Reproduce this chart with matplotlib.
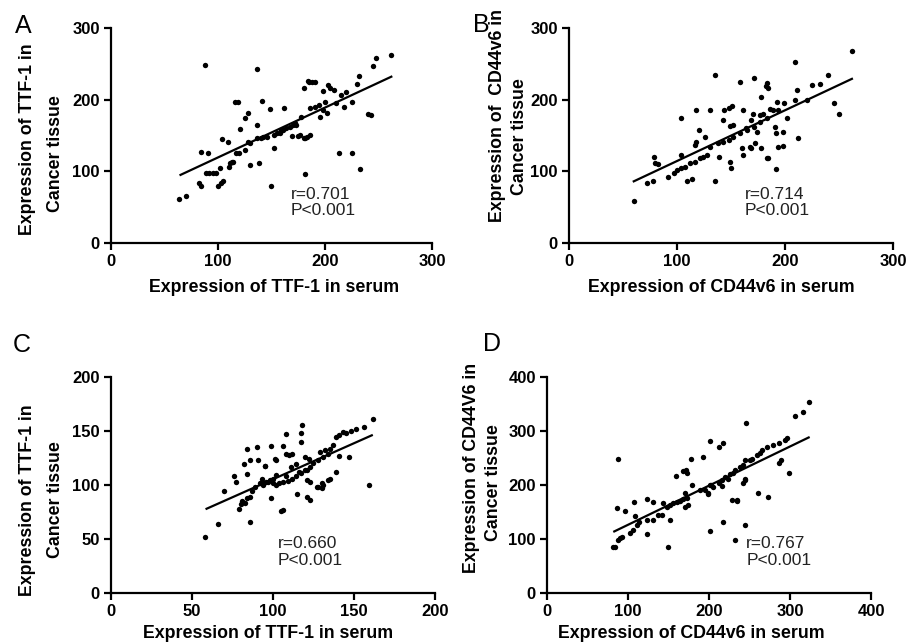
import matplotlib
matplotlib.use("Agg")
import matplotlib.pyplot as plt
import numpy as np

plt.rcParams['font.family'] = ['Liberation Sans', 'DejaVu Sans']

# panel A: TTF-1, serum vs cancer tissue
a_x = [64, 70, 88, 136, 84, 91, 82, 84, 89, 92, 95, 98, 102, 104, 109, 100, 103, 105,
       110, 113, 117, 120, 111, 114, 116, 119, 125, 128, 121, 130, 138, 125, 128, 136, 142,
       141, 136, 149, 150, 152, 152, 155, 161, 167, 172, 178, 162, 169, 175, 181, 181, 180,
       185, 184, 188, 191, 198, 203, 205, 208, 200, 198, 202, 195, 186, 191, 194, 164, 159,
       170, 177, 180, 183, 186, 130, 140, 146, 158, 173, 213, 225, 233, 230, 232, 240, 243,
       248, 262, 220, 215, 245, 225, 218, 210]
a_y = [62, 65, 249, 243, 127, 126, 83, 80, 97, 98, 98, 98, 104, 145, 141, 80, 83, 86,
       106, 113, 125, 125, 111, 113, 196, 197, 175, 181, 159, 109, 112, 130, 141, 146, 148,
       198, 164, 187, 80, 133, 151, 153, 158, 162, 167, 176, 189, 149, 149, 146, 96, 216,
       225, 226, 225, 224, 212, 220, 216, 214, 197, 186, 182, 176, 188, 190, 192, 160, 158,
       165, 151, 147, 148, 151, 139, 146, 148, 153, 165, 125, 125, 103, 222, 233, 180, 178,
       258, 262, 210, 207, 247, 197, 190, 195]
a_fit_x = [65, 262]
a_fit_y = [95, 232]

# panel B: CD44v6, serum vs cancer tissue
b_x = [60, 72, 78, 79, 80, 82, 92, 97, 100, 104, 107, 112, 117, 121, 124, 128, 104, 104,
       109, 114, 118, 131, 120, 118, 117, 126, 135, 135, 131, 138, 143, 148, 152, 158, 165,
       171, 177, 183, 139, 144, 148, 151, 143, 149, 152, 149, 150, 158, 161, 160, 161, 168,
       169, 170, 171, 174, 178, 178, 182, 183, 183, 184, 209, 211, 209, 193, 199, 202, 186,
       189, 194, 191, 192, 198, 194, 198, 192, 184, 212, 172, 164, 169, 177, 180, 232, 240,
       250, 262, 225, 220, 245]
b_y = [59, 83, 86, 120, 112, 110, 92, 98, 102, 104, 106, 111, 113, 118, 120, 123, 175, 123,
       87, 89, 186, 185, 158, 141, 137, 148, 234, 86, 134, 139, 141, 144, 148, 153, 158,
       162, 169, 174, 120, 186, 189, 191, 172, 163, 165, 113, 104, 225, 186, 132, 123, 134,
       132, 180, 230, 155, 132, 203, 219, 118, 223, 216, 252, 213, 199, 197, 195, 175, 187,
       185, 186, 162, 153, 155, 134, 135, 103, 119, 146, 139, 160, 172, 179, 180, 222, 235,
       180, 268, 220, 200, 195]
b_fit_x = [60, 262]
b_fit_y = [86, 229]

# panel C: TTF-1, second cohort
c_x = [58, 66, 70, 76, 77, 79, 80, 81, 83, 84, 86, 82, 84, 84, 90, 86, 91, 95, 86, 87, 89,
       92, 94, 96, 98, 100, 102, 93, 99, 102, 99, 100, 102, 104, 106, 109, 112, 114, 117,
       120, 123, 125, 128, 131, 134, 106, 108, 112, 105, 106, 110, 117, 117, 118, 116, 121,
       115, 121, 123, 121, 123, 120, 122, 127, 130, 131, 162, 156, 151, 148, 143, 141, 139,
       159, 137, 135, 132, 129, 141, 147, 139, 135, 134, 130, 128, 108, 95, 101, 94, 97,
       108, 111, 114, 145]
c_y = [52, 64, 94, 108, 103, 78, 82, 85, 83, 88, 89, 119, 110, 133, 135, 123, 123, 118, 66,
       94, 98, 102, 102, 103, 105, 106, 109, 106, 136, 123, 88, 102, 100, 102, 103, 104, 106,
       108, 111, 114, 117, 120, 123, 126, 129, 136, 147, 129, 76, 77, 128, 148, 140, 156,
       112, 114, 92, 105, 103, 89, 86, 126, 124, 98, 97, 100, 161, 154, 152, 150, 149, 146,
       144, 100, 137, 133, 132, 131, 127, 126, 112, 106, 105, 102, 98, 129, 118, 124, 100,
       103, 108, 117, 119, 148]
c_fit_x = [59, 161]
c_fit_y = [78, 146]

# panel D: CD44v6, second cohort
d_x = [82, 84, 88, 90, 93, 88, 86, 96, 107, 109, 102, 106, 111, 113, 123, 131, 124, 131, 124,
       137, 142, 143, 148, 152, 156, 160, 164, 168, 173, 170, 152, 149, 159, 168, 172, 173,
       178, 179, 170, 174, 193, 195, 199, 201, 201, 201, 205, 212, 216, 220, 226, 232, 238,
       242, 212, 217, 216, 217, 228, 234, 232, 242, 244, 245, 246, 244, 253, 259, 265, 271,
       279, 286, 294, 260, 273, 286, 289, 323, 306, 316, 296, 299, 235, 244, 263, 250, 224,
       230, 203, 189, 199]
d_y = [85, 86, 98, 101, 103, 248, 157, 151, 169, 143, 112, 117, 126, 132, 174, 169, 135, 135,
       109, 144, 144, 166, 160, 163, 167, 169, 171, 174, 175, 185, 135, 86, 217, 225, 227,
       222, 248, 200, 160, 163, 252, 191, 183, 282, 114, 200, 197, 203, 209, 215, 220, 227,
       234, 237, 271, 277, 199, 132, 172, 172, 99, 204, 209, 125, 315, 246, 249, 256, 265,
       271, 274, 278, 283, 186, 178, 240, 246, 353, 328, 336, 287, 223, 171, 212, 259, 246,
       212, 222, 200, 191, 185]
d_fit_x = [83, 323]
d_fit_y = [114, 288]

fig = plt.figure(figsize=(9.06, 6.44), dpi=100, facecolor='white')


def panel(rect, x, y, fx, fy, xmax, ymax, step_x, step_y):
    ax = fig.add_axes(rect)
    ax.scatter(x, y, s=15, color='black', zorder=3, linewidths=0)
    ax.plot(fx, fy, color='black', lw=1.6, zorder=2)
    ax.set_xlim(0, xmax)
    ax.set_ylim(0, ymax)
    ax.set_xticks(np.arange(0, xmax + 1, step_x))
    ax.set_yticks(np.arange(0, ymax + 1, step_y))
    for s in ['top', 'right']:
        ax.spines[s].set_visible(False)
    for s in ['left', 'bottom']:
        ax.spines[s].set_linewidth(1.6)
    ax.tick_params(direction='out', length=5, width=1.6, labelsize=12, pad=3)
    for lab in ax.get_xticklabels() + ax.get_yticklabels():
        lab.set_fontweight('bold')
    return ax


def px(x, y):
    # pixel position -> figure fraction
    return x / 906, 1 - y / 644


ax_a = panel([0.1225, 0.6227, 0.3543, 0.3339], a_x, a_y, a_fit_x, a_fit_y, 300, 300, 100, 100)
ax_b = panel([0.628, 0.6227, 0.3576, 0.3339], b_x, b_y, b_fit_x, b_fit_y, 300, 300, 100, 100)
ax_c = panel([0.1225, 0.0792, 0.3576, 0.3354], c_x, c_y, c_fit_x, c_fit_y, 200, 200, 50, 50)
ax_d = panel([0.6038, 0.0792, 0.3576, 0.3354], d_x, d_y, d_fit_x, d_fit_y, 400, 400, 100, 100)

# r / P annotations
stats = [(ax_a, 168, 56, 'r=0.701\nP<0.001'),
         (ax_b, 163, 56, 'r=0.714\nP<0.001'),
         (ax_c, 103, 38, 'r=0.660\nP<0.001'),
         (ax_d, 246, 76, 'r=0.767\nP<0.001')]
for ax, tx, ty, txt in stats:
    ax.text(tx, ty, txt, fontsize=12.5, ha='left', va='center', linespacing=1.1, color='#222')

# axis labels as free text so they can sit where the original has them
lbl = dict(fontsize=12.8, fontweight='bold', ha='center', va='center')
fig.text(*px(274, 287), 'Expression of TTF-1 in serum', **lbl)
fig.text(*px(721, 287), 'Expression of CD44v6 in serum', **lbl)
fig.text(*px(268, 634), 'Expression of TTF-1 in serum', **lbl)
fig.text(*px(691, 634), 'Expression of CD44v6 in serum', **lbl)

fig.text(*px(28, 139), 'Expression of TTF-1 in', rotation=90, **lbl)
fig.text(*px(55, 154), 'Cancer tissue', rotation=90, **lbl)
fig.text(*px(497, 115), 'Expression of  CD44v6 in', rotation=90, **lbl)
fig.text(*px(520, 137), 'Cancer tissue', rotation=90, **lbl)
fig.text(*px(28, 500), 'Expression of TTF-1 in', rotation=90, **lbl)
fig.text(*px(55, 500), 'Cancer tissue', rotation=90, **lbl)
fig.text(*px(472, 468), 'Expression of CD44V6 in', rotation=90, **lbl)
fig.text(*px(493, 483), 'Cancer tissue', rotation=90, **lbl)

# panel letters
for letter, (lx, ly) in zip('ABCD', [(23, 26), (481, 25), (22, 345), (492, 344)]):
    fig.text(*px(lx, ly), letter, fontsize=18, ha='center', va='center')

fig.savefig('out.png', dpi=100, facecolor='white')
